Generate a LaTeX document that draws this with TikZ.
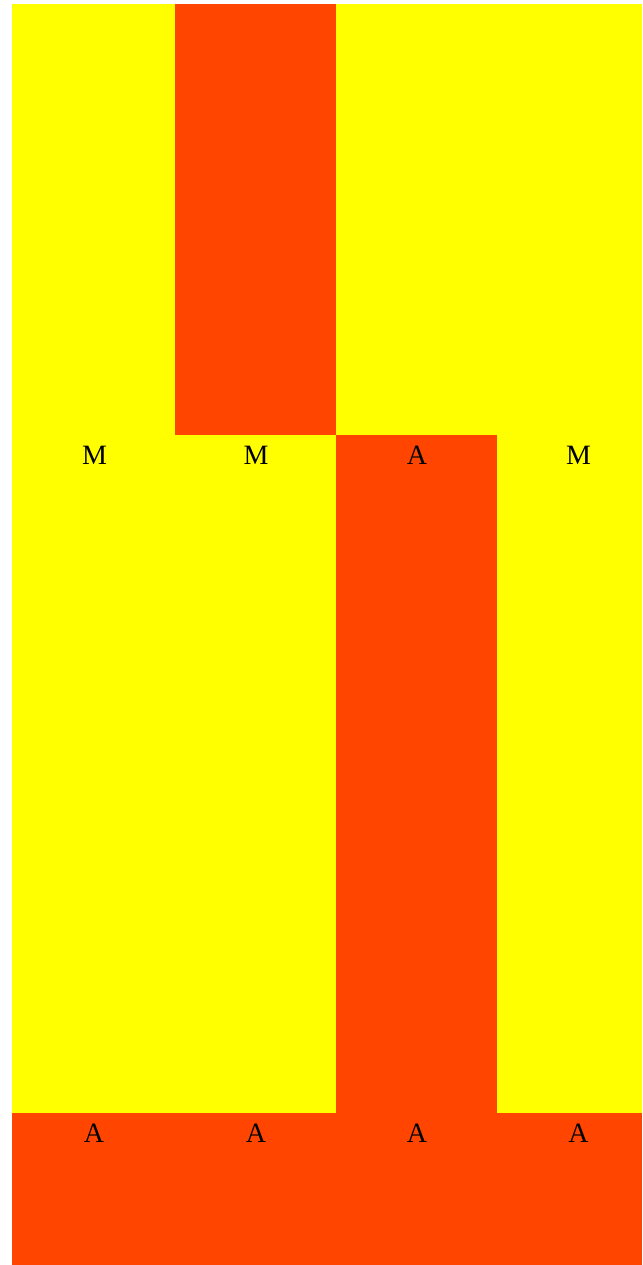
\documentclass[tikz,border=0pt]{standalone}
\usepackage{fontspec}
\setmainfont{Liberation Serif}
\definecolor{cellred}{HTML}{FF4500}
\definecolor{cellyellow}{HTML}{FFFF00}
\tikzset{lbl/.style={anchor=base,font=\fontsize{28}{33}\selectfont}}
\begin{document}
\begin{tikzpicture}[x=1pt,y=-1pt]
                \useasboundingbox (0,0) rectangle (642,1265);
                \coordinate (TL) at (12,4);
                \coordinate (R1) at (642,435);
                \coordinate (R2) at (642,1113);
                \coordinate (BR) at (642,1265);
                \fill[cellyellow] (TL) rectangle (R1);
                \fill[cellred] (175,4) rectangle (336,435);
                \fill[cellyellow] (12,435) rectangle (R2);
                \fill[cellred] (336,435) rectangle (497,1113);
                \fill[cellred] (12,1113) rectangle (BR);
                \node[lbl] (m1) at (94.5,464) {M};
                \node[lbl] (m2) at (256,464) {M};
                \node[lbl] (m3) at (417,464) {A};
                \node[lbl] (m4) at (578.5,464) {M};
                \node[lbl] (b1) at (94,1142) {A};
                \node[lbl] (b2) at (256,1142) {A};
                \node[lbl] (b3) at (417,1142) {A};
                \node[lbl] (b4) at (578.5,1142) {A};
            \end{tikzpicture}
\end{document}
